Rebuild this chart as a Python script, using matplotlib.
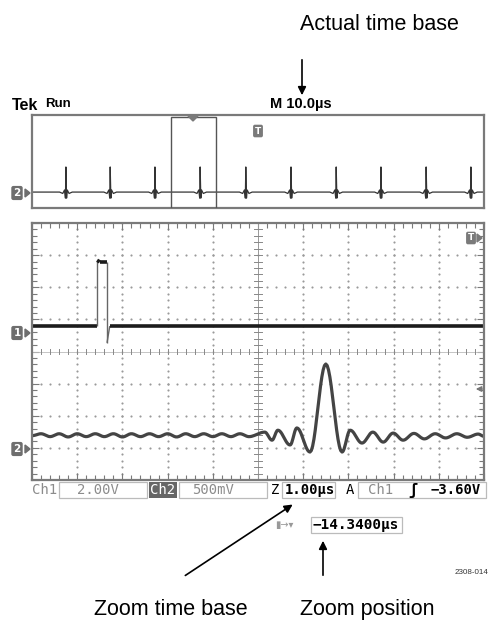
import numpy as np
import matplotlib.pyplot as plt
from matplotlib.patches import Rectangle, Polygon

# scope settings
main_tb = 10.0      # us/div  (M 10.0us)
zoom_tb = 1.00      # us/div  (Z 1.00us)
zoom_pos = -14.34   # us

# zoomed window, graticule divisions (x -5..5, y -4..4)
ch1_t = [-5.0, -3.56, -3.56, -3.50, -3.34, -3.34, -3.28, 5.0]
ch1_v = [0.79, 0.79, 2.84, 2.79, 2.79, 0.27, 0.79, 0.79]

# ch2 turning points
ch2_t = [-5.0, -4.8, -4.6, -4.4, -4.2, -4.0, -3.8, -3.6, -3.4, -3.2, -3.0, -2.8, -2.6,
         -2.4, -2.2, -2.0, -1.8, -1.6, -1.4, -1.2, -1.0, -0.8, -0.6, -0.4, -0.2,
         0.15, 0.31, 0.44, 0.71, 0.86, 1.15, 1.50, 1.86, 2.04, 2.30, 2.54, 2.77,
         2.99, 3.21, 3.45, 3.68, 3.92, 4.15, 4.40, 4.63, 4.87, 5.0]
ch2_v = [-2.62, -2.56, -2.65, -2.56, -2.66, -2.56, -2.65, -2.56, -2.65, -2.56, -2.66, -2.56, -2.65,
         -2.56, -2.65, -2.56, -2.66, -2.56, -2.65, -2.56, -2.65, -2.56, -2.65, -2.56, -2.65,
         -2.51, -2.76, -2.45, -2.91, -2.38, -3.13, -0.39, -3.13, -2.45, -2.85, -2.51, -2.82,
         -2.54, -2.76, -2.55, -2.72, -2.56, -2.69, -2.56, -2.67, -2.57, -2.64]

# overview (main time base): ch2 bursts
ov_spikes = [-4.25, -3.27, -2.28, -1.28, -0.27, 0.73, 1.73, 2.72, 3.72, 4.71]
burst_dt = [-0.14, -0.07, -0.03, -0.01, 0.0, 0.015, 0.03, 0.07, 0.14]
burst_v = [-2.63, -2.75, -2.45, -3.15, -0.47, -3.15, -2.45, -2.75, -2.63]
ov_base = -2.63


def smooth(t, v, n=12):
    # half-cosine between turning points
    xs, ys = [], []
    for i in range(len(t) - 1):
        s = np.linspace(0, 1, n, endpoint=False)
        xs.append(t[i] + (t[i + 1] - t[i]) * s)
        ys.append(v[i] + (v[i + 1] - v[i]) * (1 - np.cos(np.pi * s)) / 2)
    xs.append([t[-1]])
    ys.append([v[-1]])
    return np.concatenate(xs), np.concatenate(ys)


W, H = 490, 621
fig = plt.figure(figsize=(W / 100, H / 100), dpi=100)


def px_axes(x0, y0, x1, y1):
    return fig.add_axes([x0 / W, 1 - y1 / H, (x1 - x0) / W, (y1 - y0) / H])


grid_c = '#9a9a9a'
frame_c = '#7a7a7a'

# ---------------- overview window ----------------
ax_ov = px_axes(32, 115, 484, 208)
ax_ov.set_xlim(-5, 5)
ax_ov.set_ylim(-4, 4)
ax_ov.set_xticks([])
ax_ov.set_yticks([])
for sp in ax_ov.spines.values():
    sp.set_color(frame_c)
    sp.set_linewidth(1.6)

ot, ovv = [-5.0], [ov_base]
for s in ov_spikes:
    ot += [s + d for d in burst_dt]
    ovv += burst_v
ot.append(5.0)
ovv.append(ov_base)
ax_ov.plot(ot, ovv, color='#333333', lw=0.9)

zc = zoom_pos / main_tb
zw = 10 * zoom_tb / main_tb
ax_ov.add_patch(Rectangle((zc - zw / 2, -4.0), zw, 7.85, fill=False,
                          ec='#555555', lw=1.0, zorder=3))

# ---------------- zoomed graticule ----------------
ax = px_axes(32, 223, 484, 480)
ax.set_xlim(-5, 5)
ax.set_ylim(-4, 4)
ax.set_xticks(np.arange(-5, 5.01, 1))
ax.set_yticks(np.arange(-4, 4.01, 1))
ax.set_xticks(np.arange(-5, 5.01, 0.2), minor=True)
ax.set_yticks(np.arange(-4, 4.01, 0.2), minor=True)
ax.tick_params(which='both', direction='in', top=True, right=True,
               labelbottom=False, labelleft=False, color=frame_c, width=0.8)
ax.tick_params(which='major', length=5)
ax.tick_params(which='minor', length=3.5)
for sp in ax.spines.values():
    sp.set_color(frame_c)
    sp.set_linewidth(1.6)

dx = np.arange(-5, 5.01, 0.2)
dy = np.arange(-4, 4.01, 0.2)
for gx in range(-4, 5):
    if gx:
        ax.scatter(np.full_like(dy, gx), dy, s=2.4, c=grid_c, lw=0)
for gy in range(-3, 4):
    if gy:
        ax.scatter(dx, np.full_like(dx, gy), s=2.4, c=grid_c, lw=0)
# centre cross with ticks
ax.axvline(0, color='#999999', lw=0.7)
ax.axhline(0, color='#bbbbbb', lw=0.6)
for x in dx:
    ax.plot([x, x], [-0.08, 0.08], color='#888888', lw=0.7)
for y in dy:
    ax.plot([-0.08, 0.08], [y, y], color='#888888', lw=0.7)

# ch1: flat parts thick, fast edges thin
for i in range(len(ch1_t) - 1):
    flat = ch1_v[i] == ch1_v[i + 1] or abs(ch1_v[i] - ch1_v[i + 1]) < 0.1
    ax.plot(ch1_t[i:i + 2], ch1_v[i:i + 2], color='#1c1c1c' if flat else '#666666',
            lw=2.6 if flat else 1.0, solid_capstyle='butt')
t2, v2 = smooth(ch2_t, ch2_v)
ax.plot(t2, v2, color='#444444', lw=2.3)

# ---------------- annotation layer (pixel coords) ----------------
ov = fig.add_axes([0, 0, 1, 1], facecolor='none')
ov.set_xlim(0, W)
ov.set_ylim(H, 0)
ov.axis('off')

sans = 'Liberation Sans'
mono = 'DejaVu Sans Mono'

ov.text(300, 30, 'Actual time base', family=sans, fontsize=15.5, va='baseline')
ov.annotate('', xy=(302, 98), xytext=(302, 57),
            arrowprops=dict(arrowstyle='-|>', color='black', lw=1.2, mutation_scale=12))

ov.text(12, 105, 'Tek', family=sans, fontsize=11.5, fontweight='bold', va='center')
ov.text(45, 104, 'Run', family=sans, fontsize=9.5, fontweight='bold', va='center')
ov.text(270, 104, 'M 10.0µs', family=sans, fontsize=10.5, fontweight='bold', va='center')

# channel / trigger markers
def marker(x, y, s):
    ov.text(x, y, s, color='white', fontsize=7.5, fontweight='bold', ha='center', va='center',
            bbox=dict(boxstyle='round,pad=0.2', fc='#6e6e6e', ec='none'))
    ov.add_patch(Polygon([[x + 8, y - 4], [x + 13, y], [x + 8, y + 4]], color='#6e6e6e'))

marker(17, 193, '2')
marker(17, 333, '1')
marker(17, 449, '2')
ov.text(258, 131, 'T', color='white', fontsize=6.5, fontweight='bold', ha='center', va='center',
        bbox=dict(boxstyle='round,pad=0.2', fc='#7a7a7a', ec='none'))
ov.text(471, 238, 'T', color='white', fontsize=6.5, fontweight='bold', ha='center', va='center',
        bbox=dict(boxstyle='round,pad=0.2', fc='#7a7a7a', ec='none'))
ov.add_patch(Polygon([[477, 234], [482, 238], [477, 242]], color='#7a7a7a'))
ov.add_patch(Polygon([[188, 116], [198, 116], [193, 121]], color='#7a7a7a'))
ov.annotate('', xy=(473, 389), xytext=(485, 389),
            arrowprops=dict(arrowstyle='-|>', color='#777777', lw=1.0, mutation_scale=8))

# status bar
gray = '#8c8c8c'
by = 490
def box(x0, x1, y0=482, y1=498):
    ov.add_patch(Rectangle((x0, y0), x1 - x0, y1 - y0, fill=False, ec='#bbbbbb', lw=0.9))

ov.text(32, by, 'Ch1', family=mono, fontsize=10, color=gray, va='center')
box(59, 147)
ov.text(77, by, '2.00V', family=mono, fontsize=10, color=gray, va='center')
ov.text(150, by, 'Ch2', family=mono, fontsize=10, color='white', va='center',
        bbox=dict(boxstyle='square,pad=0.1', fc='#666666', ec='none'))
box(179, 267)
ov.text(192, by, '500mV', family=mono, fontsize=10, color=gray, va='center')
ov.text(271, by, 'Z', family=mono, fontsize=10, color='black', va='center')
box(282, 335)
ov.text(285, by, '1.00µs', family=mono, fontsize=10, fontweight='bold', color='black', va='center')
ov.text(346, by, 'A', family=mono, fontsize=10, color='black', va='center')
box(358, 486)
ov.text(368, by, 'Ch1', family=mono, fontsize=10, color=gray, va='center')
ov.text(408, by, 'ʃ', family=mono, fontsize=11, color='black', va='center', fontweight='bold')
ov.text(431, by, '−3.60V', family=mono, fontsize=10, fontweight='bold', color='black', va='center')

box(311, 402, 517, 533)
ov.text(313, 525, '−14.3400µs', family=mono, fontsize=10.3, fontweight='bold', color='black', va='center')
ov.text(275, 525, '▮→▾', fontsize=7, color='#999999', va='center')

ov.annotate('', xy=(295, 503), xytext=(183, 577),
            arrowprops=dict(arrowstyle='-|>', color='black', lw=1.2, mutation_scale=12))
ov.annotate('', xy=(323, 538), xytext=(323, 578),
            arrowprops=dict(arrowstyle='-|>', color='black', lw=1.2, mutation_scale=12))

ov.text(488, 572, '2308-014', family=sans, fontsize=5.8, color='#333333', va='center', ha='right')
ov.text(94, 615, 'Zoom time base', family=sans, fontsize=15.5, va='baseline')
ov.text(300, 615, 'Zoom position', family=sans, fontsize=15.5, va='baseline')

fig.savefig('out.png', dpi=100)
